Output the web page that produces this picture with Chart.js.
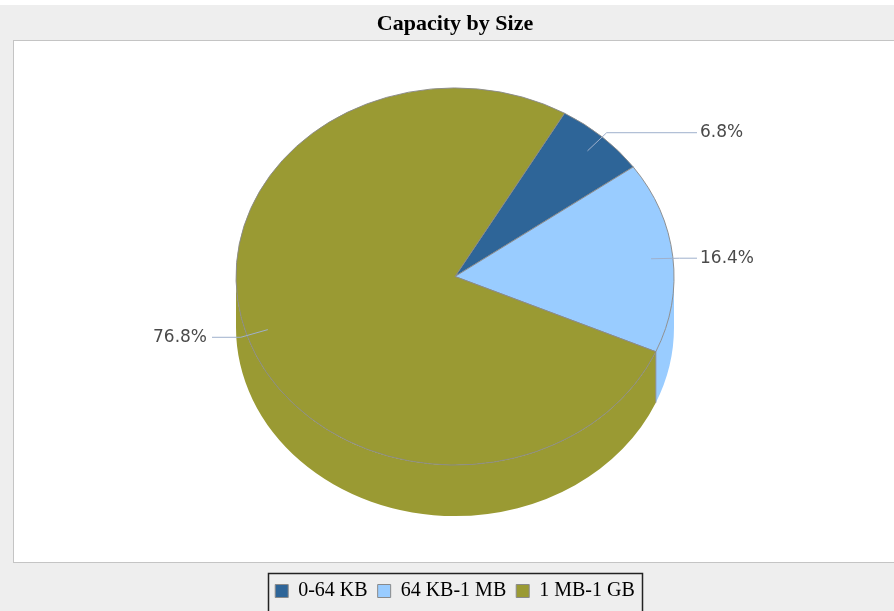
<!DOCTYPE html>
<html>
<head>
<meta charset="utf-8">
<script src="https://cdn.jsdelivr.net/npm/chart.js@4"></script>
<style>
  html, body { margin: 0; padding: 0; background: #eeeeee; }
  #wrap { width: 894px; height: 611px; }
</style>
</head>
<body>
<div id="wrap"><canvas id="capacityPie" width="894" height="611"></canvas></div>
<script>
// data
const categories = ['0-64 KB', '64 KB-1 MB', '1 MB-1 GB'];
const shares = [6.8, 16.4, 76.8];

const sliceColors = ['#2e6598', '#99ccff', '#9a9a33'];

// look of the fake 3d pie
const pieCenterY = 276.5;
const tilt = 0.861;
const depth = 51;

const background = {
    id: 'background',
    beforeDraw(chart) {
        const ctx = chart.ctx;
        ctx.save();
        ctx.fillStyle = '#eeeeee';
        ctx.fillRect(0, 0, chart.width, chart.height);
        ctx.fillStyle = '#ffffff';
        ctx.fillRect(0, 0, chart.width, 5);
        // plot box
        ctx.fillStyle = '#ffffff';
        ctx.fillRect(13.5, 40.5, chart.width, 522);
        ctx.strokeStyle = '#c4c4c4';
        ctx.lineWidth = 1;
        ctx.strokeRect(13.5, 40.5, chart.width, 522);
        ctx.restore();
    },
    afterDraw(chart) {
        // box round the legend
        const boxes = chart.legend.legendHitBoxes;
        if (!boxes || !boxes.length) return;
        const left = Math.min(...boxes.map(b => b.left)) - 7;
        const right = Math.max(...boxes.map(b => b.left + b.width)) + 7;
        const ctx = chart.ctx;
        ctx.save();
        ctx.strokeStyle = '#222';
        ctx.lineWidth = 1.5;
        ctx.strokeRect(Math.round(left) + 0.5, 573.5, Math.round(right - left), 45);
        ctx.restore();
    }
};

const pie3d = {
    id: 'pie3d',
    beforeDatasetsDraw(chart) {
        const ctx = chart.ctx;
        const arcs = chart.getDatasetMeta(0).data;
        if (!arcs.length) return;
        const el0 = arcs[0];
        const cx = el0.x, cy = pieCenterY;
        const rx = el0.outerRadius, ry = rx * tilt;

        // side wall, only the front half shows
        ctx.save();
        arcs.forEach((arc, i) => {
            const {startAngle, endAngle} = arc.getProps(['startAngle', 'endAngle'], true);
            [[0, Math.PI], [2 * Math.PI, 3 * Math.PI]].forEach(([lo, hi]) => {
                const s = Math.max(startAngle, lo), e = Math.min(endAngle, hi);
                if (e <= s) return;
                ctx.beginPath();
                ctx.ellipse(cx, cy, rx, ry, 0, s, e);
                ctx.ellipse(cx, cy + depth, rx, ry, 0, e, s, true);
                ctx.closePath();
                ctx.fillStyle = sliceColors[i];
                ctx.fill();
            });
        });
        // edges where slices meet on the wall
        ctx.strokeStyle = '#8a8a8a';
        ctx.lineWidth = 1;
        arcs.forEach(arc => {
            const a = arc.startAngle;
            const n = ((a % (2 * Math.PI)) + 2 * Math.PI) % (2 * Math.PI);
            if (n > 0 && n < Math.PI) {
                const x = cx + rx * Math.cos(n), y = cy + ry * Math.sin(n);
                ctx.beginPath();
                ctx.moveTo(x, y);
                ctx.lineTo(x, y + depth);
                ctx.stroke();
            }
        });
        ctx.restore();

        // squash the top face
        ctx.save();
        ctx.translate(cx, cy);
        ctx.scale(1, tilt);
        ctx.translate(-el0.x, -el0.y);
    },
    afterDatasetsDraw(chart) {
        const ctx = chart.ctx;
        ctx.restore();
        const arcs = chart.getDatasetMeta(0).data;
        if (!arcs.length) return;
        const cx = arcs[0].x, cy = pieCenterY;
        const rx = arcs[0].outerRadius, ry = rx * tilt;

        ctx.save();
        ctx.strokeStyle = '#9fb0cc';
        ctx.lineWidth = 1;
        ctx.fillStyle = '#4a4a4a';
        ctx.font = '17px "DejaVu Sans"';
        ctx.textBaseline = 'middle';
        arcs.forEach((arc, i) => {
            const mid = (arc.startAngle + arc.endAngle) / 2;
            const c = Math.cos(mid), s = Math.sin(mid);
            const x0 = cx + 0.9 * rx * c, y0 = cy + 0.9 * ry * s;
            const x1 = cx + 1.03 * rx * c, y1 = cy + 1.03 * ry * s + (Math.abs(s) < 0.2 ? 2 : 0);
            const right = c >= 0;
            const x2 = right ? cx + rx + 23 : cx - rx - 24;
            ctx.beginPath();
            ctx.moveTo(x0, y0);
            ctx.lineTo(x1, y1);
            ctx.lineTo(x2, y1);
            ctx.stroke();
            ctx.textAlign = right ? 'left' : 'right';
            ctx.fillText(shares[i].toFixed(1) + '%', right ? x2 + 3 : x2 - 5, y1);
        });
        ctx.restore();
    }
};

new Chart('capacityPie', {
    type: 'pie',
    data: {
        labels: categories,
        datasets: [{
            data: shares,
            backgroundColor: sliceColors,
            borderColor: '#8a8a8a',
            borderWidth: 1,
            radius: 219,
            clip: false
        }]
    },
    options: {
        responsive: false,
        animation: false,
        rotation: 30,
        layout: { padding: { left: 16 } },
        plugins: {
            title: {
                display: true,
                text: 'Capacity by Size',
                color: '#000',
                font: { family: 'Liberation Serif', size: 22, weight: 'bold' },
                padding: { top: 11, bottom: 8 }
            },
            legend: {
                position: 'bottom',
                labels: {
                    color: '#000',
                    boxWidth: 13,
                    boxHeight: 13,
                    padding: 10,
                    font: { family: 'Liberation Serif', size: 20 }
                }
            },
            tooltip: { enabled: false }
        }
    },
    plugins: [background, pie3d]
});
</script>
</body>
</html>
